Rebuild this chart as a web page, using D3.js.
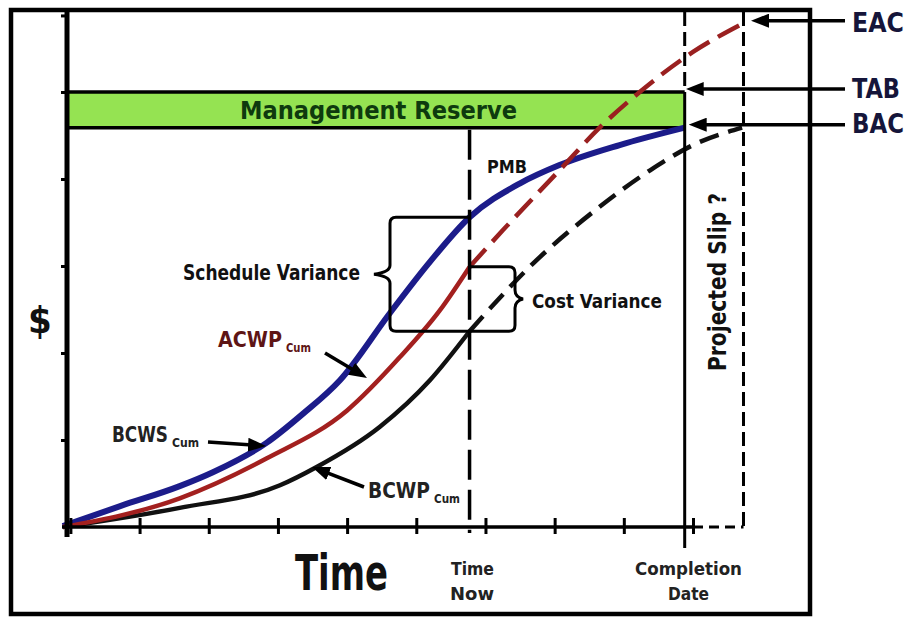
<!DOCTYPE html>
<html lang="en">
<head>
<meta charset="utf-8">
<title>Earned value chart</title>
<script src="https://cdn.jsdelivr.net/npm/d3@7"></script>
<style>
  body { margin: 0; background: #fff; }
  text { font-family: "Liberation Sans Narrow", "Arial Narrow", "DejaVu Sans Condensed", sans-serif; font-weight: bold; }
</style>
</head>
<body>
<script>
var w = 912, h = 619;

// time ticks and $ ticks
var timeTicks = [0, 1, 2, 3, 4, 5, 6, 7, 8, 9];
var dollarTicks = [1, 2, 3, 4, 5, 5.88];
var timeNow = 5.77, completion = 8.88, slipEnd = 9.73;
var TAB = 5.0, BAC = 4.59, EAC = 5.82;

// cumulative curves as [time, $]
var bcws = [[-0.11, 0.01], [0.72, 0.24], [1.58, 0.47], [2.06, 0.63], [2.84, 0.97], [3.36, 1.30],
            [3.90, 1.69], [4.62, 2.46], [5.20, 3.05], [5.77, 3.56], [6.50, 3.95], [7.07, 4.16],
            [7.94, 4.39], [8.88, 4.59]];
var acwp = [[-0.11, 0.0], [1.58, 0.33], [2.84, 0.79], [4.00, 1.34], [4.76, 1.95], [5.34, 2.49], [5.77, 2.99]];
var acwpProj = [[5.77, 2.99], [6.25, 3.41], [7.07, 4.10], [7.65, 4.59], [8.23, 5.00], [9.00, 5.46], [9.75, 5.80]];
var bcwp = [[-0.11, 0.0], [1.58, 0.22], [3.03, 0.48], [3.56, 0.69], [4.47, 1.15], [5.20, 1.69], [5.77, 2.25]];
var bcwpProj = [[5.77, 2.25], [6.69, 3.03], [7.65, 3.68], [8.38, 4.10], [9.00, 4.39], [9.71, 4.59]];

var x = d3.scaleLinear().domain([0, 9]).range([70.4, 693]);
var y = d3.scaleLinear().domain([0, 5]).range([527, 92]);

var svg = d3.select("body").append("svg")
            .attr("width", w)
            .attr("height", h);

// arrow head
svg.append("defs").append("marker")
   .attr("id", "ah")
   .attr("viewBox", "0 0 18 14")
   .attr("refX", 12).attr("refY", 7)
   .attr("markerWidth", 18).attr("markerHeight", 14)
   .attr("markerUnits", "userSpaceOnUse")
   .attr("orient", "auto")
   .append("path").attr("d", "M0,0 L18,7 L0,14 z").attr("fill", "#000");

// outer frame
svg.append("rect")
   .attr("x", 11).attr("y", 10).attr("width", 799).attr("height", 604)
   .attr("fill", "none").attr("stroke", "#000").attr("stroke-width", 4.5);

// management reserve band
svg.append("rect")
   .attr("x", 67).attr("y", y(TAB)).attr("width", x(completion) - 67).attr("height", y(BAC) - y(TAB))
   .attr("fill", "#95e352");
[TAB, BAC].forEach(function(v) {
  svg.append("line")
     .attr("x1", 65).attr("x2", x(completion)).attr("y1", y(v)).attr("y2", y(v))
     .attr("stroke", "#000").attr("stroke-width", 3.5);
});
svg.append("text")
   .attr("x", 240).attr("y", 119)
   .attr("font-size", 25)
   .attr("textLength", 277).attr("lengthAdjust", "spacingAndGlyphs")
   .attr("fill", "#0e3a0e")
   .text("Management Reserve");

// curves
var line = d3.line()
             .x(function(d) { return x(d[0]); })
             .y(function(d) { return y(d[1]); })
             .curve(d3.curveMonotoneX);

svg.append("path").attr("d", line(bcwp)).attr("fill", "none")
   .attr("stroke", "#111").attr("stroke-width", 4.5);
svg.append("path").attr("d", line(bcwpProj)).attr("fill", "none")
   .attr("stroke", "#111").attr("stroke-width", 4.5).attr("stroke-dasharray", "20,10");
svg.append("path").attr("d", line(bcws)).attr("fill", "none")
   .attr("stroke", "#1c1c8a").attr("stroke-width", 6);
svg.append("path").attr("d", line(acwp)).attr("fill", "none")
   .attr("stroke", "#a3201f").attr("stroke-width", 4.5);
svg.append("path").attr("d", line(acwpProj)).attr("fill", "none")
   .attr("stroke", "#9a2020").attr("stroke-width", 4.5).attr("stroke-dasharray", "24,10");

// axes
var xAxis = d3.axisBottom(x).tickValues(timeTicks).tickSize(16).tickSizeOuter(0).tickFormat("");
var gx = svg.append("g").attr("transform", "translate(0,518)").call(xAxis);
gx.select(".domain").remove();
gx.selectAll(".tick line").attr("stroke", "#000").attr("stroke-width", 3);

var yAxis = d3.axisLeft(y).tickValues(dollarTicks).tickSize(6).tickSizeOuter(0).tickFormat("");
var gy = svg.append("g").attr("transform", "translate(67,0)").call(yAxis);
gy.select(".domain").remove();
gy.selectAll(".tick line").attr("stroke", "#000").attr("stroke-width", 3);

svg.append("line").attr("x1", 67).attr("x2", 67).attr("y1", 12).attr("y2", 537)
   .attr("stroke", "#000").attr("stroke-width", 5);
svg.append("line").attr("x1", 62).attr("x2", x(9)).attr("y1", y(0)).attr("y2", y(0))
   .attr("stroke", "#000").attr("stroke-width", 3.5);
svg.append("line").attr("x1", x(9)).attr("x2", x(slipEnd)).attr("y1", y(0)).attr("y2", y(0))
   .attr("stroke", "#000").attr("stroke-width", 3).attr("stroke-dasharray", "10,6");

// time now, completion, projected slip
svg.append("line").attr("x1", x(timeNow)).attr("x2", x(timeNow)).attr("y1", y(BAC) + 2).attr("y2", 533)
   .attr("stroke", "#000").attr("stroke-width", 3.5).attr("stroke-dasharray", "30,10");
svg.append("line").attr("x1", x(completion)).attr("x2", x(completion)).attr("y1", y(TAB)).attr("y2", 548)
   .attr("stroke", "#000").attr("stroke-width", 3);
svg.append("line").attr("x1", x(completion)).attr("x2", x(completion)).attr("y1", 12).attr("y2", y(TAB))
   .attr("stroke", "#000").attr("stroke-width", 3).attr("stroke-dasharray", "14,6");
svg.append("line").attr("x1", x(slipEnd)).attr("x2", x(slipEnd)).attr("y1", 12).attr("y2", y(0))
   .attr("stroke", "#000").attr("stroke-width", 3).attr("stroke-dasharray", "14,6");

// variance braces
var xn = x(timeNow);
var svTop = y(bcws[9][1]), svBot = y(bcwp[bcwp.length - 1][1]);
var cvTop = y(acwp[acwp.length - 1][1]);

function brace(xv, xt, y1, y2, dir) {
  var ym = (y1 + y2) / 2, r = 6 * dir;
  return "M" + xn + "," + y1 + " L" + (xv + r) + "," + y1 + " Q" + xv + "," + y1 + " " + xv + "," + (y1 + 6) +
         " L" + xv + "," + (ym - 9) + " Q" + xv + "," + (ym - 2) + " " + xt + "," + ym +
         " Q" + xv + "," + (ym + 2) + " " + xv + "," + (ym + 9) +
         " L" + xv + "," + (y2 - 6) + " Q" + xv + "," + y2 + " " + (xv + r) + "," + y2 + " L" + xn + "," + y2;
}
svg.append("path").attr("d", brace(390, 374, svTop, svBot, 1))
   .attr("fill", "none").attr("stroke", "#000").attr("stroke-width", 3);
svg.append("path").attr("d", brace(515, 523, cvTop, svBot, -1))
   .attr("fill", "none").attr("stroke", "#000").attr("stroke-width", 3);

// pointer arrows
function arrow(x1, y1, x2, y2) {
  var dx = x2 - x1, dy = y2 - y1, len = Math.sqrt(dx * dx + dy * dy);
  svg.append("line")
     .attr("x1", x1).attr("y1", y1)
     .attr("x2", x2 - dx / len * 6).attr("y2", y2 - dy / len * 6)
     .attr("stroke", "#000").attr("stroke-width", 3.5)
     .attr("marker-end", "url(#ah)");
}
arrow(845, y(EAC), 751, y(EAC));
arrow(845, y(TAB) - 3, x(completion) + 1, y(TAB) - 3);
arrow(845, y(BAC) - 3, x(completion) + 4, y(BAC) - 3);
arrow(208, 442, 266, 446);
arrow(325, 353, 367, 378);
arrow(364, 487, 312, 467);

// labels
function label(tx, ty, str, size, color, len, anchor) {
  var t = svg.append("text").attr("x", tx).attr("y", ty)
             .attr("font-size", size).attr("fill", color)
             .attr("text-anchor", anchor || "start").text(str);
  if (len) t.attr("textLength", len).attr("lengthAdjust", "spacingAndGlyphs");
  return t;
}
function subLabel(tx, ty, main, sub, size, color, len, subLen) {
  label(tx, ty, main, size, color, len);
  label(tx + len + 4, ty + 5, sub, size * 0.62, color, subLen);
}

label(852, 32, "EAC", 27, "#15153a", 52);
label(852, 98, "TAB", 27, "#15153a", 48);
label(852, 133, "BAC", 27, "#15153a", 52);

label(183, 280, "Schedule Variance", 21, "#111", 177);
label(532, 308, "Cost Variance", 20, "#111", 130);
label(487, 173, "PMB", 18, "#111", 40);
subLabel(218, 347, "ACWP", "Cum", 21, "#5e1515", 64, 25);
subLabel(112, 442, "BCWS", "Cum", 21, "#222", 56, 27);
subLabel(368, 498, "BCWP", "Cum", 21, "#222", 62, 26);

label(40, 333, "$", 38, "#111", null, "middle");
label(295, 590, "Time", 50, "#111", 93);
label(451, 575, "Time", 18, "#222", 43);
label(450, 600, "Now", 18, "#222", 44);
label(635, 575, "Completion", 18, "#222", 107);
label(668, 600, "Date", 18, "#222", 41);

svg.append("text")
   .attr("transform", "translate(726,371) rotate(-90)")
   .attr("font-size", 24).attr("fill", "#111")
   .attr("textLength", 178).attr("lengthAdjust", "spacingAndGlyphs")
   .text("Projected Slip ?");
</script>
</body>
</html>
